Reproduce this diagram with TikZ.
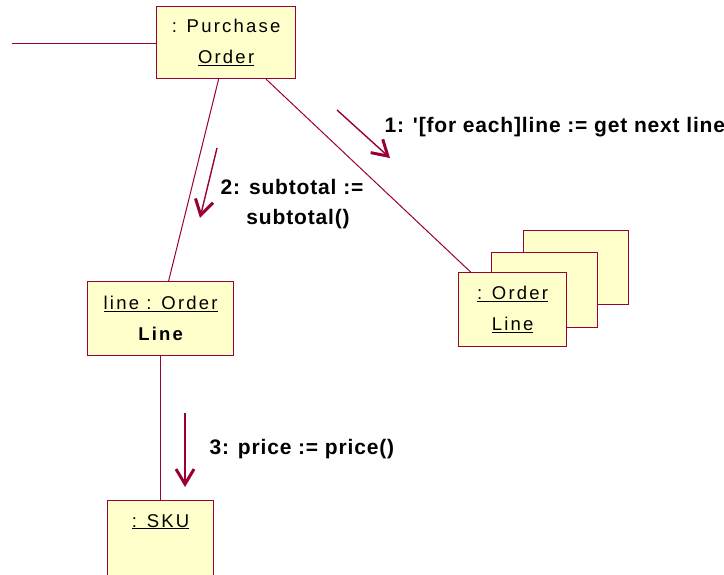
\documentclass[tikz,border=0pt]{standalone}
\usepackage{fontspec}
\setmainfont{Liberation Sans}
\newfontfamily\objfont{Liberation Sans}[LetterSpace=12]
\newfontfamily\msgfont{Liberation Sans}[LetterSpace=4]
\usetikzlibrary{arrows.meta}
\definecolor{umlred}{RGB}{153,0,51}
\definecolor{umlfill}{RGB}{255,255,204}

\begin{document}
\begin{tikzpicture}[x=1pt, y=-1pt]

% Estilos para objetos, enlaces y mensajes
\tikzset{
    objbox/.style={
        draw=umlred,
        fill=umlfill,
        line width=1.2pt,
        inner sep=0pt,
        anchor=north west,
        align=center,
        font=\objfont\fontsize{18.5}{31}\selectfont
    },
    objtext/.style={font=\objfont\fontsize{18.5}{31}\selectfont},
    link/.style={draw=umlred, line width=1pt},
    msgarrow/.style={
        draw=umlred,
        line width=1.4pt,
        -{Straight Barb[length=15pt, width=18pt, line width=3pt]}
    },
    msglabel/.style={font=\msgfont\bfseries\fontsize{21}{30}\selectfont}
}

\useasboundingbox (0,0) rectangle (724,575);

% =============================================
% OBJETOS
% =============================================
\node[objbox, minimum width=139pt, minimum height=72pt] (po) at (156,6)
    {: Purchase\\\underline{Order}};

\node[objbox, minimum width=146pt, minimum height=74pt] (lol) at (87,281)
    {\underline{line : Order}\\{\bfseries Line}};

\node[objbox, minimum width=106pt, minimum height=85pt] (sku) at (107,500) {};
\node[objtext, anchor=base] (skuname) at ([yshift=-27pt]sku.north) {\underline{: SKU}};

% Multiobjeto (tres cajas apiladas)
\node[objbox, minimum width=105pt, minimum height=74pt] (olback) at (523,230) {};
\node[objbox, minimum width=106pt, minimum height=75pt] (olmid) at (491,252) {};
\node[objbox, minimum width=108pt, minimum height=74pt] (ol) at (458,272)
    {\underline{: Order}\\\underline{Line}};

% =============================================
% ENLACES
% =============================================
\coordinate (leftend) at (12,44);
\draw[link] (leftend) -- (leftend -| po.west);
\draw[link] ([xshift=-7.5pt]po.south) -- ([xshift=8pt]lol.north);
\draw[link] ([xshift=40pt]po.south) -- ([xshift=-42pt]ol.north);
\draw[link] (lol.south) -- (sku.north);

% =============================================
% MENSAJES
% =============================================
\coordinate (m1s) at (337,110);
\coordinate (m1e) at (390,158);
\draw[msgarrow] (m1s) -- (m1e);
\node[msglabel, anchor=base west] (m1label) at (381,133) {1: '[for each]line := get next line};

\coordinate (m2s) at (217,148);
\coordinate (m2e) at (200,218);
\draw[msgarrow] (m2s) -- (m2e);
\node[msglabel, anchor=base] (m2label) at (292,195) {2: subtotal :=};
\node[msglabel, anchor=base] (m2labelb) at (298,225) {subtotal()};

\coordinate (m3s) at (185,413);
\coordinate (m3e) at (185,487);
\draw[msgarrow] (m3s) -- (m3e);
\node[msglabel, anchor=base west] (m3label) at (206,454) {3: price := price()};

\end{tikzpicture}
\end{document}
